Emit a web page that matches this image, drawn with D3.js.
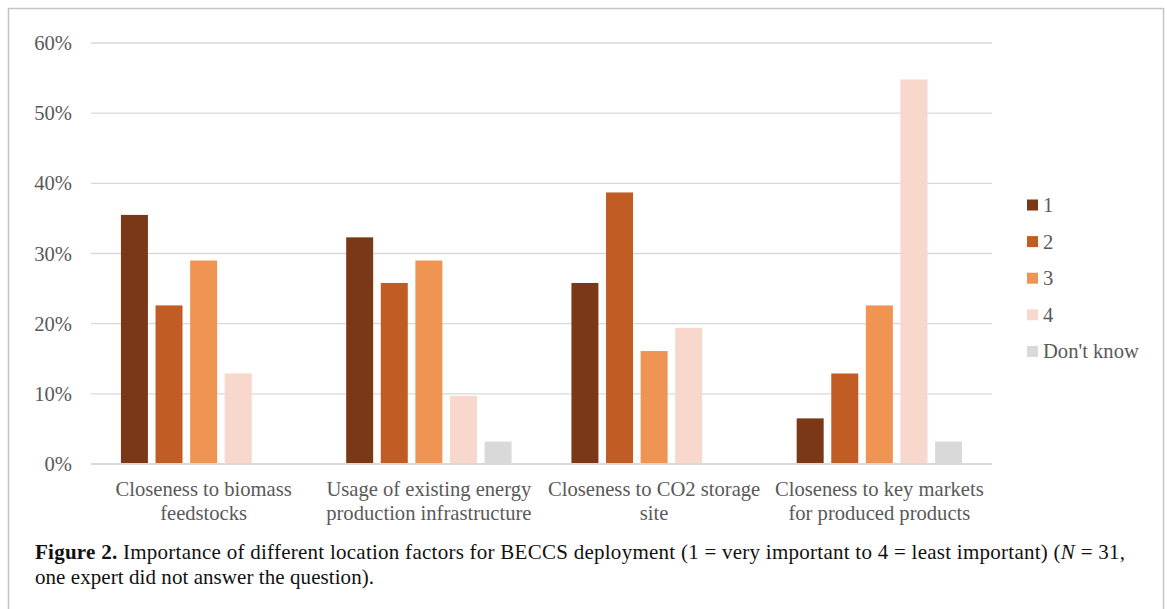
<!DOCTYPE html>
<html>
<head>
<meta charset="utf-8">
<script src="https://cdn.jsdelivr.net/npm/d3@7/dist/d3.min.js"></script>
<style>
  html, body { margin: 0; padding: 0; background: #fff; }
  svg { display: block; }
</style>
</head>
<body>
<svg id="chart" width="1167" height="609"></svg>
<script>
// ---- data ----
const categories = [
  ["Closeness to biomass", "feedstocks"],
  ["Usage of existing energy", "production infrastructure"],
  ["Closeness to CO2 storage", "site"],
  ["Closeness to key markets", "for produced products"]
];
const seriesNames = ["1", "2", "3", "4", "Don't know"];
const series1 = [35.5, 32.3, 25.8, 6.5];
const series2 = [22.6, 25.8, 38.7, 12.9];
const series3 = [29.0, 29.0, 16.1, 22.6];
const series4 = [12.9, 9.7, 19.4, 54.8];
const seriesDK = [0, 3.2, 0, 3.2];
const yTicks = [0, 10, 20, 30, 40, 50, 60];
const colors = ["#7A3817", "#C05C24", "#F09454", "#F8D7CC", "#D9D9D9"];
const captionBold = "Figure 2.";
const captionLine1 = " Importance of different location factors for BECCS deployment (1 = very important to 4 = least important) (";
const captionLine1b = " = 31,";
const captionLine2 = "one expert did not answer the question).";

const allSeries = [series1, series2, series3, series4, seriesDK];

const svg = d3.select("#chart");
const textColor = "#595959";
const font = "'Liberation Serif', 'Times New Roman', serif";
const fs = 20.6;

// frame
svg.append("rect")
  .attr("x", 8.5).attr("y", 8.5)
  .attr("width", 1155).attr("height", 620)
  .attr("fill", "none").attr("stroke", "#C4C4C4").attr("stroke-width", 1.5);

const plot = { left: 91, right: 992, top: 43, bottom: 464 };

const y = d3.scaleLinear().domain([0, 60]).range([plot.bottom, plot.top]);
const x0 = d3.scaleBand().domain(d3.range(categories.length)).range([plot.left, plot.right]).padding(0);
const x1 = d3.scaleBand().domain(d3.range(seriesNames.length))
  .range([0, x0.bandwidth()]).paddingInner(0.22).paddingOuter(0.865);

// gridlines
svg.append("g")
  .selectAll("line")
  .data(yTicks.filter(d => d > 0))
  .join("line")
  .attr("x1", plot.left).attr("x2", plot.right)
  .attr("y1", d => y(d)).attr("y2", d => y(d))
  .attr("stroke", "#D9D9D9").attr("stroke-width", 1.3);

// y axis labels
const yAxis = d3.axisLeft(y).tickValues(yTicks).tickFormat(d => d + "%").tickSize(0).tickPadding(19);
const yg = svg.append("g").attr("transform", `translate(${plot.left},0)`).call(yAxis);
yg.select(".domain").remove();
yg.selectAll("text")
  .attr("font-family", font).attr("font-size", fs).attr("fill", textColor);

// bars
const groups = svg.append("g").selectAll("g")
  .data(categories.map((c, i) => i))
  .join("g")
  .attr("transform", i => `translate(${x0(i)},0)`);

groups.selectAll("rect")
  .data(i => allSeries.map((s, k) => ({ k, v: s[i] })))
  .join("rect")
  .attr("x", d => x1(d.k))
  .attr("width", x1.bandwidth())
  .attr("y", d => y(d.v))
  .attr("height", d => y(0) - y(d.v))
  .attr("fill", d => colors[d.k]);

// baseline
svg.append("line")
  .attr("x1", plot.left).attr("x2", plot.right)
  .attr("y1", y(0)).attr("y2", y(0))
  .attr("stroke", "#D9D9D9").attr("stroke-width", 2);

// category labels
const xg = svg.append("g");
categories.forEach((lines, i) => {
  const t = xg.append("text")
    .attr("x", x0(i) + x0.bandwidth() / 2)
    .attr("y", 496)
    .attr("text-anchor", "middle")
    .attr("font-family", font).attr("font-size", fs).attr("fill", textColor);
  lines.forEach((l, j) => {
    t.append("tspan").attr("x", x0(i) + x0.bandwidth() / 2).attr("dy", j === 0 ? 0 : 24).text(l);
  });
});

// legend
const legend = svg.append("g");
seriesNames.forEach((name, k) => {
  const cy = 205 + k * 36.6;
  legend.append("rect")
    .attr("x", 1027).attr("y", cy - 5.5).attr("width", 11).attr("height", 11)
    .attr("fill", colors[k]);
  legend.append("text")
    .attr("x", 1043).attr("y", cy + 7)
    .attr("font-family", font).attr("font-size", fs).attr("fill", textColor)
    .text(name);
});

// caption
const cap = svg.append("text")
  .attr("x", 35).attr("y", 559)
  .attr("font-family", font).attr("font-size", 21).attr("fill", "#111")
  .attr("textLength", 1090).attr("lengthAdjust", "spacing");
cap.append("tspan").attr("font-weight", "bold").text(captionBold);
cap.append("tspan").text(captionLine1);
cap.append("tspan").attr("font-style", "italic").text("N");
cap.append("tspan").text(captionLine1b);
svg.append("text")
  .attr("x", 35).attr("y", 584)
  .attr("font-family", font).attr("font-size", 21).attr("fill", "#111")
  .attr("textLength", 339).attr("lengthAdjust", "spacing")
  .text(captionLine2);
</script>
</body>
</html>
